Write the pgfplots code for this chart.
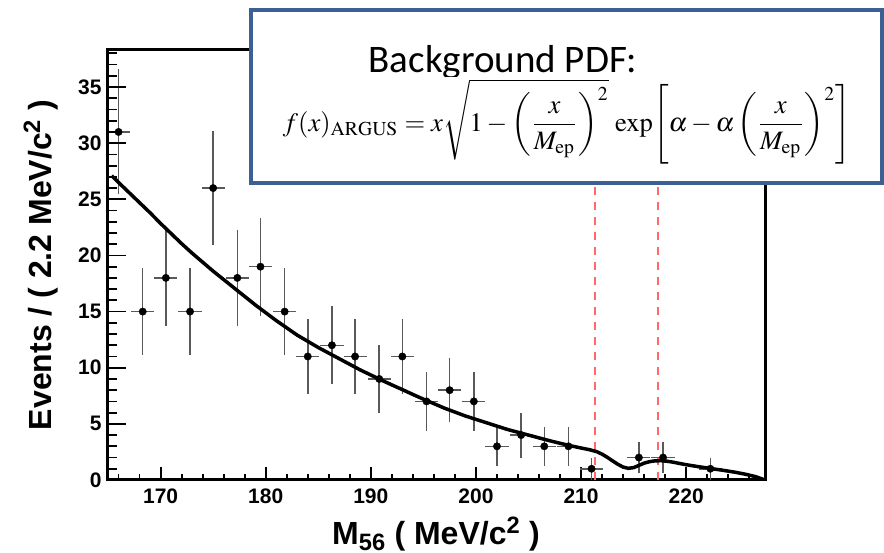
\documentclass[border=0pt]{standalone}
\usepackage{mathptmx}
\usepackage[no-math]{fontspec}
\setmainfont{Liberation Sans}
\newfontfamily\calibri{Carlito}
\usepackage{graphicx}
\usepackage{pgfplots}
\pgfplotsset{compat=1.18}
\definecolor{boxblue}{RGB}{60,96,145}
\definecolor{cutred}{RGB}{255,105,105}

\pgfplotstableread{
x ex y ey
166.0 1.1 31 5.57
168.3 1.1 15 3.87
170.5 1.1 18 4.24
172.8 1.1 15 3.87
175.0 1.1 26 5.10
177.3 1.1 18 4.24
179.5 1.1 19 4.36
181.8 1.1 15 3.87
184.0 1.1 11 3.32
186.3 1.1 12 3.46
188.5 1.1 11 3.32
190.8 1.1 9 3.00
193.0 1.1 11 3.32
195.3 1.1 7 2.65
197.5 1.1 8 2.83
199.8 1.1 7 2.65
202.0 1.1 3 1.73
204.3 1.1 4 2.00
206.5 1.1 3 1.73
208.8 1.1 3 1.73
211.0 1.1 1 1.00
215.5 1.1 2 1.41
217.8 1.1 2 1.41
222.3 1.1 1 1.00
}\datatable

\pgfplotstableread{
x y
165.35 27.1
166 26.5
167 25.6
168 24.7
169 23.8
170 22.85
171 21.95
172 21.05
173 20.2
174 19.4
175 18.6
176 17.85
177 17.1
178 16.35
179 15.6
180 14.9
181 14.2
182 13.55
183 12.9
184 12.35
185 11.8
186 11.3
187 10.8
188 10.3
189 9.8
190 9.35
191 8.9
192 8.47
193 8.05
194 7.62
195 7.2
196 6.8
197 6.4
198 6.05
199 5.7
200 5.4
201 5.1
202 4.8
203 4.5
204 4.25
205 4.0
206 3.75
207 3.5
208 3.27
209 3.05
210 2.85
210.8 2.7
211.5 2.52
212.0 2.3
212.5 2.02
213.0 1.7
213.5 1.4
214.0 1.15
214.5 1.04
215.0 1.1
215.5 1.3
216.0 1.5
216.5 1.63
217.0 1.7
217.6 1.72
218.2 1.67
218.8 1.58
219.5 1.45
220.2 1.33
221.2 1.18
222.2 1.04
223.4 0.88
224.6 0.70
225.6 0.52
226.6 0.30
227.5 0.0
}\fittable

\begin{document}
\begin{tikzpicture}[x=1pt,y=1pt]
\useasboundingbox (0,0) rectangle (884,553);
\begin{axis}[
  at={(107pt,73pt)}, anchor=south west,
  scale only axis, width=658pt, height=430pt,
  xmin=164.9, xmax=227.5, ymin=0, ymax=38.3,
  axis line style={line width=3pt},
  tick align=inside,
  xtick pos=bottom, ytick pos=left,
  xtick={170,180,...,220},
  minor xtick={166,168,...,226},
  ytick={0,5,...,35},
  ytick style={draw=none},
  minor ytick={},
  major tick length=13pt, minor tick length=6pt,
  xtick style={line width=1.8pt, black},
  /pgf/number format/assume math mode=true,
  tick label style={font=\bfseries\fontsize{21}{22}\selectfont},
  xticklabel style={yshift=-5pt},
  yticklabel style={xshift=-2pt},
  xlabel={M\textsubscript{56} ( MeV/c\textsuperscript{2} )},
  ylabel={Events / ( 2.2 MeV/c\textsuperscript{2} )},
  every axis x label/.style={at={(axis description cs:0.5,-0.151)}, anchor=base, font=\bfseries\fontsize{32}{34}\selectfont},
  every axis y label/.style={at={(axis description cs:-0.084,0.5)}, rotate=90, anchor=base, font=\bfseries\fontsize{32}{34}\selectfont},
  clip=true,
]
\addplot[cutred, line width=2pt, dash pattern=on 8pt off 7pt] coordinates {(211.35,0) (211.35,38.3)};
\addplot[cutred, line width=2pt, dash pattern=on 8pt off 7pt] coordinates {(217.35,0) (217.35,38.3)};
\addplot[only marks, mark=*, mark size=3.7pt, black,
  error bars/.cd, x dir=both, x explicit, y dir=both, y explicit,
  error bar style={line width=1.5pt, black!65}, error mark=none]
  table[x=x, y=y, x error=ex, y error=ey] {\datatable};
\addplot[black, line width=3.5pt, line join=round] table[x=x, y=y] {\fittable};
\end{axis}
\begin{axis}[
  at={(107pt,73pt)}, anchor=south west,
  scale only axis, width=658pt, height=430pt,
  xmin=164.9, xmax=227.5, ymin=0, ymax=38.3,
  axis line style={draw=none},
  tick align=inside,
  xtick=\empty, ytick pos=left,
  ytick={0,5,...,35},
  minor ytick={1,2,...,38},
  yticklabels={},
  major tick length=19pt, minor tick length=10pt,
  ytick style={line width=1.8pt, black},
]
\end{axis}
\draw[line width=4pt, draw=boxblue, fill=white] (251,370) rectangle (882,543);
\node[font=\calibri\fontsize{39}{40}\selectfont, anchor=base] at (503,480) {Background PDF:};
\fill[white] (270,388) rectangle (868,476);
\node at (567,431) {\resizebox{568pt}{!}{$\displaystyle f(x)_{\mathrm{ARGUS}} = x\sqrt{1-\left(\frac{x}{M_{\mathrm{ep}}}\right)^{2}}\,\exp\!\left[\alpha-\alpha\left(\frac{x}{M_{\mathrm{ep}}}\right)^{2}\right]$}};
\end{tikzpicture}
\end{document}
